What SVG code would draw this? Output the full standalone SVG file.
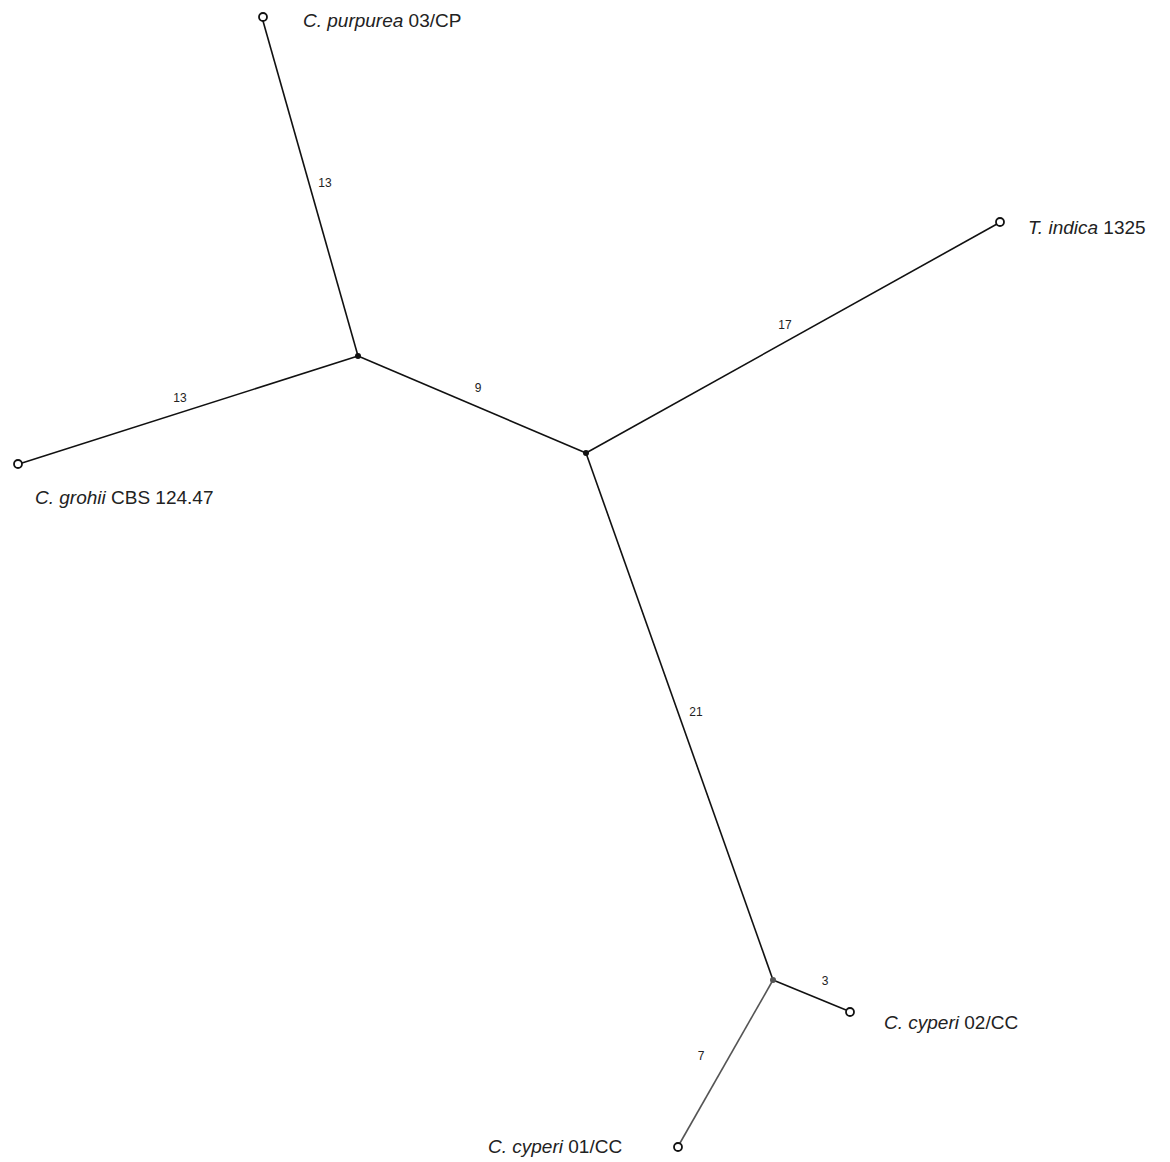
<svg xmlns="http://www.w3.org/2000/svg" width="1170" height="1162" viewBox="0 0 1170 1162">
<style>
.e{stroke:#111;stroke-width:1.6;fill:none}
.g{stroke:#555}
.leaf{fill:#fff;stroke:#111;stroke-width:1.8}
.int{fill:#111}
.lab{font-family:"Liberation Sans",Arial,sans-serif;font-size:19px;fill:#222}
.it{font-style:italic}
.el{font-family:"Liberation Sans",Arial,sans-serif;font-size:12px;fill:#222;text-anchor:middle}
</style>
<rect width="1170" height="1162" fill="#fff"/>
<g id="connectors">
<line class="e" x1="263" y1="21" x2="358" y2="356"/>
<line class="e" x1="22" y1="463" x2="358" y2="356"/>
<line class="e" x1="358" y1="356" x2="586" y2="453"/>
<line class="e" x1="586" y1="453" x2="997" y2="224"/>
<line class="e" x1="586" y1="453" x2="773" y2="980"/>
<line class="e" x1="773" y1="980" x2="846" y2="1010"/>
<line class="e g" x1="773" y1="980" x2="680" y2="1143"/>
<text class="el" x="325" y="187">13</text>
<text class="el" x="180" y="402">13</text>
<text class="el" x="478" y="392">9</text>
<text class="el" x="785" y="329">17</text>
<text class="el" x="696" y="716">21</text>
<text class="el" x="825" y="985">3</text>
<text class="el" x="701" y="1060">7</text>
</g>
<g id="n_internal1"><circle class="int" cx="358" cy="356" r="3"/></g>
<g id="n_internal2"><circle class="int" cx="586" cy="453" r="3"/></g>
<g id="n_internal3"><circle class="int" cx="773" cy="980" r="3" fill="#555" style="fill:#555"/></g>
<g id="n_purpurea"><circle class="leaf" cx="263" cy="17" r="4"/><text class="lab" x="303" y="27"><tspan class="it">C. purpurea</tspan> 03/CP</text></g>
<g id="n_grohii"><circle class="leaf" cx="18" cy="464" r="4"/><text class="lab" x="35" y="504"><tspan class="it">C. grohii</tspan> CBS 124.47</text></g>
<g id="n_indica"><circle class="leaf" cx="1000" cy="222" r="4"/><text class="lab" x="1028" y="234"><tspan class="it">T. indica</tspan> 1325</text></g>
<g id="n_cyperi02"><circle class="leaf" cx="850" cy="1012" r="4"/><text class="lab" x="884" y="1029"><tspan class="it">C. cyperi</tspan> 02/CC</text></g>
<g id="n_cyperi01"><circle class="leaf" cx="678" cy="1147" r="4"/><text class="lab" x="488" y="1153"><tspan class="it">C. cyperi</tspan> 01/CC</text></g>
</svg>
